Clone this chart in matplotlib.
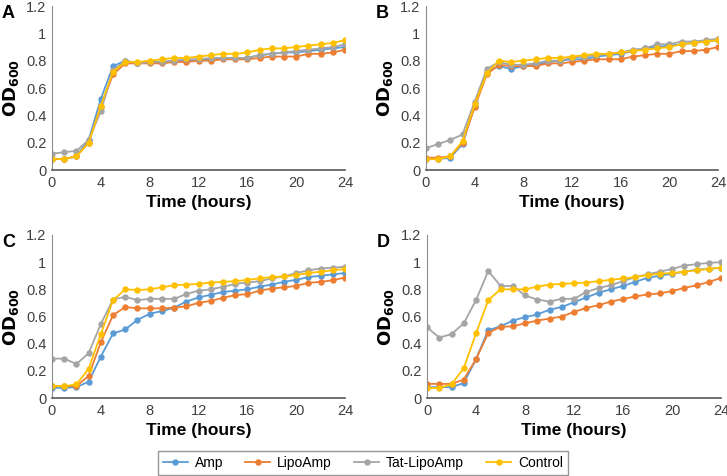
import numpy as np
import matplotlib
matplotlib.use("Agg")
import matplotlib.pyplot as plt

plt.rcParams['font.family'] = ['Liberation Sans', 'DejaVu Sans']

hours = list(range(25))
series_names = ["Amp", "LipoAmp", "Tat-LipoAmp", "Control"]
colors = ["#5B9BD5", "#ED7D31", "#A5A5A5", "#FFC000"]
panel_labels = ["A", "B", "C", "D"]

# panel A
a_amp = [0.08, 0.08, 0.10, 0.22, 0.52, 0.76, 0.80, 0.78, 0.79, 0.79, 0.80, 0.80, 0.81,
         0.81, 0.82, 0.82, 0.82, 0.84, 0.85, 0.86, 0.86, 0.87, 0.88, 0.89, 0.90]
a_lipo = [0.08, 0.08, 0.10, 0.20, 0.46, 0.70, 0.78, 0.78, 0.78, 0.78, 0.79, 0.79, 0.80,
          0.80, 0.81, 0.81, 0.81, 0.82, 0.83, 0.83, 0.83, 0.85, 0.85, 0.86, 0.88]
a_tat = [0.12, 0.13, 0.14, 0.22, 0.43, 0.73, 0.80, 0.78, 0.79, 0.79, 0.80, 0.81, 0.81,
         0.82, 0.82, 0.82, 0.82, 0.84, 0.85, 0.86, 0.87, 0.88, 0.89, 0.90, 0.92]
a_ctrl = [0.08, 0.08, 0.10, 0.20, 0.47, 0.72, 0.79, 0.79, 0.80, 0.81, 0.82, 0.82, 0.83,
          0.84, 0.85, 0.85, 0.86, 0.88, 0.89, 0.89, 0.90, 0.91, 0.92, 0.93, 0.95]

# panel B
b_amp = [0.08, 0.08, 0.09, 0.19, 0.47, 0.72, 0.76, 0.74, 0.76, 0.77, 0.79, 0.80, 0.81,
         0.81, 0.83, 0.84, 0.85, 0.87, 0.89, 0.90, 0.91, 0.92, 0.93, 0.94, 0.95]
b_lipo = [0.09, 0.09, 0.10, 0.20, 0.46, 0.70, 0.77, 0.76, 0.76, 0.76, 0.78, 0.78, 0.79,
          0.80, 0.81, 0.81, 0.81, 0.83, 0.84, 0.85, 0.85, 0.87, 0.87, 0.88, 0.90]
b_tat = [0.16, 0.19, 0.22, 0.26, 0.50, 0.74, 0.79, 0.77, 0.77, 0.78, 0.80, 0.80, 0.82,
         0.83, 0.84, 0.85, 0.86, 0.88, 0.89, 0.92, 0.92, 0.94, 0.94, 0.95, 0.96]
b_ctrl = [0.08, 0.08, 0.10, 0.21, 0.48, 0.71, 0.80, 0.79, 0.80, 0.81, 0.82, 0.82, 0.83,
          0.84, 0.85, 0.85, 0.86, 0.87, 0.88, 0.89, 0.90, 0.92, 0.93, 0.94, 0.95]

# panel C
c_amp = [0.075, 0.075, 0.08, 0.12, 0.305, 0.475, 0.505, 0.575, 0.62, 0.64, 0.665, 0.71, 0.74,
         0.76, 0.78, 0.79, 0.80, 0.82, 0.835, 0.855, 0.87, 0.89, 0.90, 0.91, 0.92]
c_lipo = [0.087, 0.087, 0.087, 0.163, 0.41, 0.61, 0.67, 0.66, 0.66, 0.66, 0.665, 0.675, 0.70,
          0.715, 0.737, 0.757, 0.765, 0.79, 0.806, 0.815, 0.825, 0.848, 0.855, 0.867, 0.887]
c_tat = [0.29, 0.29, 0.25, 0.33, 0.545, 0.725, 0.745, 0.72, 0.73, 0.73, 0.73, 0.765, 0.79,
         0.80, 0.818, 0.84, 0.85, 0.86, 0.88, 0.895, 0.92, 0.94, 0.953, 0.96, 0.966]
c_ctrl = [0.087, 0.087, 0.10, 0.215, 0.47, 0.72, 0.80, 0.795, 0.80, 0.815, 0.83, 0.835, 0.84,
          0.85, 0.855, 0.86, 0.87, 0.88, 0.89, 0.895, 0.905, 0.92, 0.93, 0.94, 0.95]

# panel D
d_amp = [0.08, 0.08, 0.08, 0.11, 0.285, 0.50, 0.527, 0.57, 0.595, 0.615, 0.65, 0.67, 0.705,
         0.74, 0.775, 0.80, 0.825, 0.855, 0.885, 0.90, 0.915, 0.93, 0.945, 0.95, 0.96]
d_lipo = [0.104, 0.104, 0.104, 0.136, 0.285, 0.478, 0.525, 0.527, 0.55, 0.57, 0.585, 0.60, 0.634,
          0.663, 0.683, 0.71, 0.728, 0.748, 0.762, 0.77, 0.787, 0.81, 0.83, 0.854, 0.884]
d_tat = [0.52, 0.445, 0.47, 0.55, 0.72, 0.935, 0.825, 0.825, 0.755, 0.725, 0.71, 0.73, 0.73,
         0.78, 0.81, 0.83, 0.86, 0.89, 0.91, 0.93, 0.95, 0.975, 0.985, 0.995, 1.0]
d_ctrl = [0.074, 0.074, 0.10, 0.22, 0.475, 0.72, 0.80, 0.80, 0.80, 0.82, 0.835, 0.84, 0.845,
          0.85, 0.86, 0.87, 0.88, 0.89, 0.905, 0.915, 0.92, 0.93, 0.94, 0.95, 0.96]

panels = [
    [a_amp, a_lipo, a_tat, a_ctrl],
    [b_amp, b_lipo, b_tat, b_ctrl],
    [c_amp, c_lipo, c_tat, c_ctrl],
    [d_amp, d_lipo, d_tat, d_ctrl],
]

W, H = 727, 476
# axes boxes in pixels: left, top, right, bottom
boxes = [(52, 6, 345, 170), (426, 6, 718, 170), (52, 235, 345, 398), (427, 235, 721, 398)]

fig = plt.figure(figsize=(W / 100, H / 100), dpi=100)

for k, (data, box) in enumerate(zip(panels, boxes)):
    l, t, r, b = box
    ax = fig.add_axes([l / W, 1 - b / H, (r - l) / W, (b - t) / H])
    for name, ys, col in zip(series_names, data, colors):
        ax.plot(hours, ys, "-o", color=col, lw=1.3, ms=3.6, label=name)
    ax.set_xlim(0, 24)
    ax.set_ylim(0, 1.2)
    ax.set_xticks([0, 4, 8, 12, 16, 20, 24])
    ax.set_yticks([0, 0.2, 0.4, 0.6, 0.8, 1.0, 1.2])
    ax.set_yticklabels(["0", "0.2", "0.4", "0.6", "0.8", "1", "1.2"])
    ax.tick_params(length=0, labelsize=10.5, colors="#404040", pad=4)
    for s in ["top", "right"]:
        ax.spines[s].set_visible(False)
    ax.spines["left"].set_color("#8c8c8c")
    ax.spines["bottom"].set_color("#595959")
    ax.spines["bottom"].set_linewidth(1.2)
    ax.set_xlabel("Time (hours)", fontsize=12.5, fontweight="bold", labelpad=4)
    ax.set_ylabel(r"$\mathbf{OD_{600}}$", fontsize=13, labelpad=4)
    fig.text((l - 50) / W, 1 - (t + 8) / H, panel_labels[k], fontsize=13,
             fontweight="bold", ha="left", va="center")
    if k == 0:
        handles, labels = ax.get_legend_handles_labels()

leg = fig.legend(handles, labels, loc="center", bbox_to_anchor=(363 / W, 1 - 463 / H),
                 ncol=4, fontsize=10, frameon=True, fancybox=False, edgecolor="#7f7f7f",
                 handlelength=1.8, columnspacing=1.6, handletextpad=0.5,
                 borderpad=0.35)
leg.get_frame().set_linewidth(1.0)

fig.savefig("out.png", dpi=100)
